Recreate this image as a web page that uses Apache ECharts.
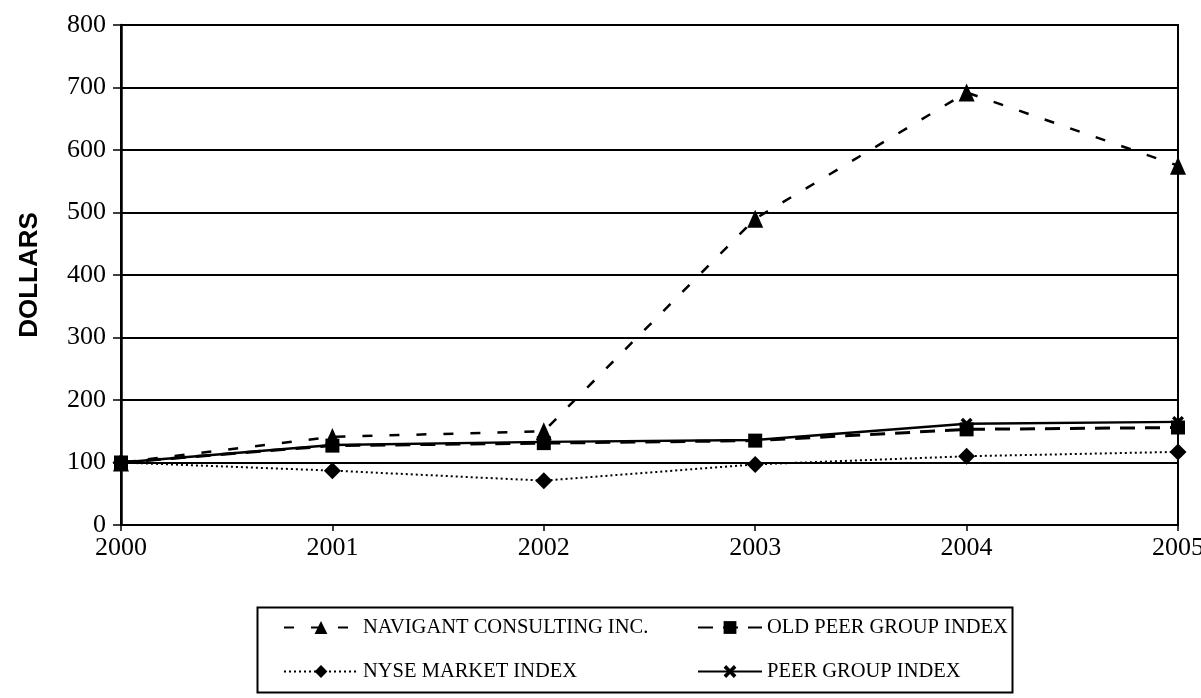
<!DOCTYPE html>
<html>
<head>
<meta charset="utf-8">
<script src="https://cdn.jsdelivr.net/npm/echarts@6/dist/echarts.min.js"></script>
<style>
  html, body { margin: 0; padding: 0; background: #fff; }
  #main { width: 1201px; height: 698px; }
</style>
</head>
<body>
<div id="main"></div>
<script>
// data
var years = ['2000', '2001', '2002', '2003', '2004', '2005'];
var navigant = [100, 141, 150, 490, 692, 575];
var oldPeer = [100, 127, 131, 135, 153, 156];
var nyse = [100, 87, 71, 97, 110, 117];
var peer = [100, 128, 133, 136, 162, 165];

var serif = "'Liberation Serif', 'Times New Roman', serif";
var crossPath = 'path://M2,0 L5,3 L8,0 L10,2 L7,5 L10,8 L8,10 L5,7 L2,10 L0,8 L3,5 L0,2 Z';

var chart = echarts.init(document.getElementById('main'), null, { renderer: 'canvas' });

var legendText = { fontFamily: serif, fontSize: 20.5, color: '#000' };

var option = {
  backgroundColor: '#fff',
  animation: false,
  grid: {
    left: 121,
    right: 23,
    top: 25,
    bottom: 173,
    outerBoundsMode: 'none',
    show: true,
    borderColor: '#000',
    borderWidth: 2
  },
  graphic: [{
    type: 'rect',
    left: 255,
    top: 605,
    shape: { width: 755, height: 85 },
    style: { fill: 'none', stroke: '#000', lineWidth: 2 }
  }],
  legend: [{
    orient: 'vertical',
    left: 278,
    top: 612,
    itemWidth: 74,
    itemHeight: 16,
    itemGap: 23,
    data: ['NAVIGANT CONSULTING INC.', 'NYSE MARKET INDEX'],
    textStyle: legendText
  }, {
    orient: 'vertical',
    left: 692,
    top: 612,
    itemWidth: 64,
    itemHeight: 16,
    itemGap: 23,
    data: ['OLD PEER GROUP INDEX', 'PEER GROUP INDEX'],
    textStyle: legendText
  }],
  xAxis: {
    type: 'category',
    data: years,
    boundaryGap: false,
    axisLine: { lineStyle: { color: '#000', width: 2 } },
    axisTick: { show: true, length: 6, lineStyle: { color: '#000', width: 1.5 } },
    axisLabel: { color: '#000', fontFamily: serif, fontSize: 26, margin: 10 },
    splitLine: { show: false }
  },
  yAxis: {
    type: 'value',
    min: 0,
    max: 800,
    interval: 100,
    name: 'DOLLARS',
    nameLocation: 'middle',
    nameGap: 78,
    nameRotate: 90,
    nameTextStyle: {
      color: '#000',
      fontFamily: "'Liberation Sans', Arial, sans-serif",
      fontWeight: 'bold',
      fontSize: 26
    },
    axisLine: { show: true, lineStyle: { color: '#000', width: 2.5 } },
    axisTick: { show: true, length: 8, lineStyle: { color: '#000', width: 1.5 } },
    axisLabel: { color: '#000', fontFamily: serif, fontSize: 26, margin: 15 },
    splitLine: { show: true, lineStyle: { color: '#000', width: 2 } }
  },
  series: [{
    name: 'PEER GROUP INDEX',
    type: 'line',
    data: peer,
    symbol: crossPath,
    symbolSize: 12,
    z: 2,
    itemStyle: { color: '#000' },
    lineStyle: { color: '#000', width: 2.5, type: 'solid' }
  }, {
    name: 'OLD PEER GROUP INDEX',
    type: 'line',
    data: oldPeer,
    symbol: 'rect',
    symbolSize: 14,
    z: 3,
    itemStyle: { color: '#000' },
    lineStyle: { color: '#000', width: 3, type: [15, 10] }
  }, {
    name: 'NYSE MARKET INDEX',
    type: 'line',
    data: nyse,
    symbol: 'diamond',
    symbolSize: 17,
    z: 3,
    itemStyle: { color: '#000' },
    lineStyle: { color: '#000', width: 2, type: [2, 3] }
  }, {
    name: 'NAVIGANT CONSULTING INC.',
    type: 'line',
    data: navigant,
    symbol: 'triangle',
    symbolSize: [16, 18],
    z: 4,
    itemStyle: { color: '#000' },
    lineStyle: { color: '#000', width: 2.5, type: [10, 17] }
  }]
};

chart.setOption(option);
</script>
</body>
</html>
